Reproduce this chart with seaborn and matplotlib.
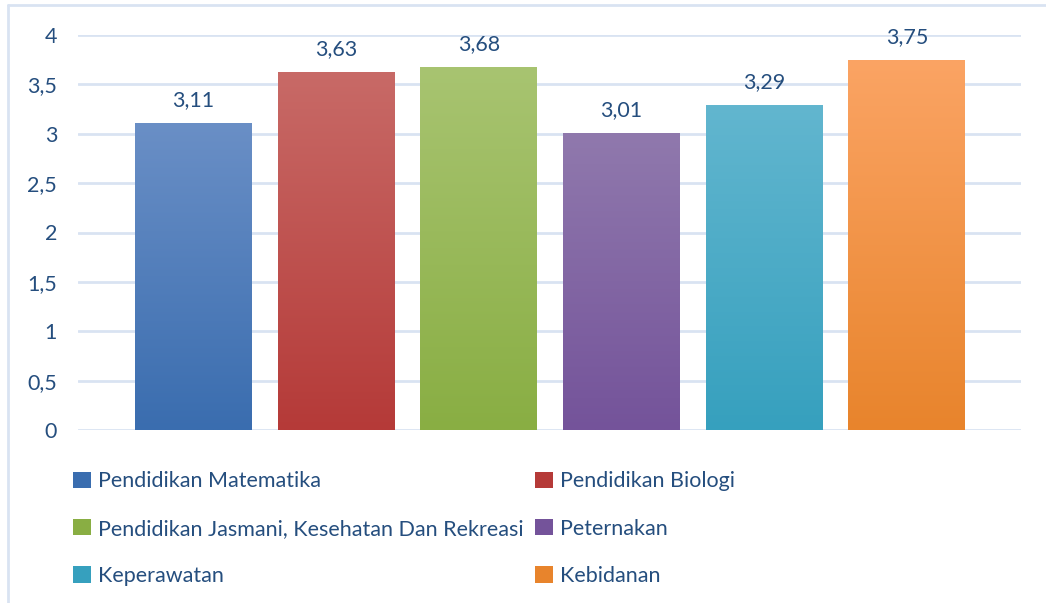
import numpy as np
import pandas as pd
import matplotlib
matplotlib.use("Agg")
import matplotlib.pyplot as plt
import seaborn as sns
from matplotlib.colors import LinearSegmentedColormap
from matplotlib.patches import Patch

categories = ["Pendidikan Matematika", "Pendidikan Biologi",
              "Pendidikan Jasmani, Kesehatan Dan Rekreasi", "Peternakan",
              "Keperawatan", "Kebidanan"]
values = [3.11, 3.63, 3.68, 3.01, 3.29, 3.75]
value_labels = ["3,11", "3,63", "3,68", "3,01", "3,29", "3,75"]
yticks = [0, 0.5, 1, 1.5, 2, 2.5, 3, 3.5, 4]
ytick_labels = ["0", "0,5", "1", "1,5", "2", "2,5", "3", "3,5", "4"]

top_colors = ["#6A8FC6", "#C86A67", "#A8C471", "#9079AD", "#62B6CF", "#FBA464"]
bot_colors = ["#3A6DAF", "#B53A38", "#89AE43", "#74539A", "#36A0BE", "#E8842C"]

sns.set_style("white")
plt.rcParams["font.family"] = ["Lato", "DejaVu Sans"]
text_color = "#254E7E"
grid_color = "#D9E3F2"
FS = 15.5

fig = plt.figure(figsize=(10.46, 6.03), dpi=100)
ax = fig.add_axes([78 / 1046, 1 - 430 / 603, (1021 - 78) / 1046, (430 - 35) / 603])

df = pd.DataFrame({"cat": categories, "val": values})
sns.barplot(data=df, x="cat", y="val", hue="cat", palette=bot_colors,
            width=0.82, legend=False, ax=ax, saturation=1)

# gradients
for i, p in enumerate(ax.patches):
    x0, y0 = p.get_x(), p.get_y()
    w, h = p.get_width(), p.get_height()
    cmap = LinearSegmentedColormap.from_list("g", [bot_colors[i], top_colors[i]])
    grad = np.linspace(0, 1, 256).reshape(-1, 1)
    im = ax.imshow(grad, cmap=cmap, origin="lower", aspect="auto",
                   extent=[x0, x0 + w, y0, y0 + h], zorder=p.get_zorder() + 0.1)
    im.set_clip_path(p)
    p.set_edgecolor("none")
    ax.text(x0 + w / 2, y0 + h + 0.13, value_labels[i], ha="center", va="bottom",
            fontsize=FS, color=text_color)

ax.set_xlim(-0.81, 5.8)
ax.set_ylim(0, 4)
ax.set_yticks(yticks)
ax.set_yticklabels(ytick_labels, fontsize=FS, color=text_color)
ax.set_xticks([])
ax.set_xlabel("")
ax.set_ylabel("")
ax.tick_params(axis="y", length=0, pad=15)
ax.yaxis.grid(True, color=grid_color, linewidth=2)
ax.set_axisbelow(True)
for s in ax.spines.values():
    s.set_visible(False)

# outer border (left/top)
fig.add_artist(plt.Line2D([8 / 1046, 8 / 1046], [0, 1 - 5 / 603], color=grid_color,
                          linewidth=2, transform=fig.transFigure))
fig.add_artist(plt.Line2D([8 / 1046, 1], [1 - 5 / 603, 1 - 5 / 603], color=grid_color,
                          linewidth=2, transform=fig.transFigure))

handles = [Patch(facecolor=bot_colors[i], edgecolor="none") for i in range(len(categories))]
for col, xpx in [(0, 69), (1, 531)]:
    idx = [col, col + 2, col + 4]
    leg = fig.legend([handles[k] for k in idx], [categories[k] for k in idx],
                     loc="upper left", bbox_to_anchor=(xpx / 1046, 1 - 467 / 603),
                     frameon=False, fontsize=FS, labelcolor=text_color,
                     handlelength=0.8, handleheight=0.8, handletextpad=0.35,
                     labelspacing=1.27, borderaxespad=0, borderpad=0.2)

fig.savefig("out.png", dpi=100)
